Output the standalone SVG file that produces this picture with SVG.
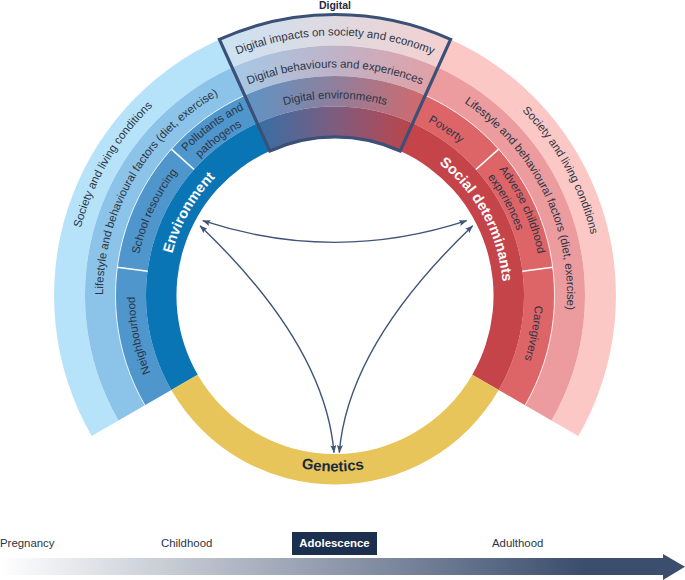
<svg xmlns="http://www.w3.org/2000/svg" width="685" height="580" viewBox="0 0 685 580">
<style>
text{font-family:"Liberation Sans",Arial,sans-serif;font-size:11.4px;fill:#2b3445}
.m{text-anchor:middle}
.b{font-weight:700;font-size:14.5px;fill:#fff}
.sep{stroke:#fff;stroke-width:1.6;fill:none}
.hair{stroke:#fff;stroke-width:.8;fill:none}
.arrow{fill:none;stroke:#3f5478;stroke-width:1.4;marker-start:url(#head);marker-end:url(#head)}
</style>
<defs>
<marker id="head" viewBox="0 0 8 6" refX="7.6" refY="3" markerWidth="8" markerHeight="6" markerUnits="userSpaceOnUse" orient="auto-start-reverse"><path d="M0 0L8 3L0 6L1.5 3Z" fill="#3f5478"/></marker>
<linearGradient id="d1" gradientUnits="userSpaceOnUse" x1="219" x2="451" y1="0" y2="0"><stop offset="0" stop-color="#cbe3f3"/><stop offset=".5" stop-color="#dfd9e0"/><stop offset="1" stop-color="#f4d0cf"/></linearGradient>
<linearGradient id="d2" gradientUnits="userSpaceOnUse" x1="232" x2="438" y1="0" y2="0"><stop offset="0" stop-color="#a5c9e6"/><stop offset=".5" stop-color="#bfb3c8"/><stop offset="1" stop-color="#e3a0a5"/></linearGradient>
<linearGradient id="d3" gradientUnits="userSpaceOnUse" x1="245" x2="425" y1="0" y2="0"><stop offset="0" stop-color="#5e94c6"/><stop offset=".5" stop-color="#8f7f9c"/><stop offset="1" stop-color="#d2696c"/></linearGradient>
<linearGradient id="d4" gradientUnits="userSpaceOnUse" x1="257" x2="413" y1="0" y2="0"><stop offset="0" stop-color="#366fa5"/><stop offset=".5" stop-color="#7e5c7f"/><stop offset="1" stop-color="#bd444a"/></linearGradient>
<linearGradient id="tl" x1="0" x2="1" y1="0" y2="0"><stop offset="0" stop-color="#fff"/><stop offset=".85" stop-color="#3c4e6e"/><stop offset="1" stop-color="#3c4e6e"/></linearGradient>
<path id="r168" d="M335 463.5A168 168 0 0 1 335 127.5A168 168 0 0 1 335 463.5"/>
<path id="r193" d="M335 488.5A193 193 0 0 1 335 102.5A193 193 0 0 1 335 488.5"/>
<path id="r197" d="M335 492.5A197 197 0 0 1 335 98.5A197 197 0 0 1 335 492.5"/>
<path id="r200" d="M335 495.5A200 200 0 0 1 335 95.5A200 200 0 0 1 335 495.5"/>
<path id="r207" d="M335 502.5A207 207 0 0 1 335 88.5A207 207 0 0 1 335 502.5"/>
<path id="r228" d="M335 523.5A228 228 0 0 1 335 67.5A228 228 0 0 1 335 523.5"/>
<path id="r232" d="M335 527.5A232 232 0 0 1 335 63.5A232 232 0 0 1 335 527.5"/>
<path id="r260" d="M335 555.5A260 260 0 0 1 335 35.5A260 260 0 0 1 335 555.5"/>
<path id="r263" d="M335 558.5A263 263 0 0 1 335 32.5A263 263 0 0 1 335 558.5"/>
<path id="gen" d="M159 295.5A176 176 0 0 0 511 295.5"/>
</defs>

<g id="environment">
<path fill="#b6e3f9" d="M91.7 436A281 281 0 0 1 219.4 39.4L232.1 67.6A250 250 0 0 0 118.5 420.5Z"/>
<path fill="#8cc3e8" d="M118.5 420.5A250 250 0 0 1 232.1 67.6L244.7 95.4A219.5 219.5 0 0 0 144.9 405.25Z"/>
<path fill="#4f96cc" d="M144.9 405.25A219.5 219.5 0 0 1 244.7 95.4L257.2 123.2A189 189 0 0 0 171.3 390Z"/>
<path fill="#0a75b5" d="M171.3 390A189 189 0 0 1 257.2 123.2L269.8 151A158.5 158.5 0 0 0 197.7 374.75Z"/>
<path class="hair" d="M144.9 405.25A219.5 219.5 0 0 1 244.7 95.4"/>
<path class="sep" d="M194.1 169.5L171.4 149.2M147.6 271.2L117.3 267.2"/>
<text><textPath href="#r263" startOffset="33.47%" class="m">Society and living conditions</textPath></text>
<text><textPath href="#r232" startOffset="33.33%" class="m">Lifestyle and behavioural factors (diet, exercise)</textPath></text>
<text><textPath href="#r207" startOffset="40%" class="m">Pollutants and</textPath></text>
<text><textPath href="#r193" startOffset="39.83%" class="m">pathogens</textPath></text>
<text><textPath href="#r200" startOffset="31.94%" class="m">School resourcing</textPath></text>
<text><textPath href="#r200" startOffset="21.8%" class="m">Neighbourhood</textPath></text>
<text class="b"><textPath href="#r168" startOffset="33.19%" class="m">Environment</textPath></text>
</g>

<g id="social-determinants">
<path fill="#fbc8c5" d="M578.3 436A281 281 0 0 0 450.6 39.4L437.9 67.6A250 250 0 0 1 551.5 420.5Z"/>
<path fill="#ec9c9e" d="M551.5 420.5A250 250 0 0 0 437.9 67.6L425.3 95.4A219.5 219.5 0 0 1 525.1 405.25Z"/>
<path fill="#dd6567" d="M525.1 405.25A219.5 219.5 0 0 0 425.3 95.4L412.8 123.2A189 189 0 0 1 498.7 390Z"/>
<path fill="#c5444a" d="M498.7 390A189 189 0 0 0 412.8 123.2L400.2 151A158.5 158.5 0 0 1 472.3 374.75Z"/>
<path class="hair" d="M525.1 405.25A219.5 219.5 0 0 0 425.3 95.4"/>
<path class="sep" d="M475.9 169.5L498.6 149.2M522.4 271.2L552.7 267.2"/>
<text><textPath href="#r263" startOffset="66.94%" class="m">Society and living conditions</textPath></text>
<text><textPath href="#r232" startOffset="67.69%" class="m">Lifestyle and behavioural factors (diet, exercise)</textPath></text>
<text><textPath href="#r197" startOffset="59.39%" class="m">Poverty</textPath></text>
<text><textPath href="#r207" startOffset="68.17%" class="m">Adverse childhood</textPath></text>
<text><textPath href="#r193" startOffset="67.03%" class="m">experiences</textPath></text>
<text><textPath href="#r200" startOffset="78%" class="m">Caregivers</textPath></text>
<text class="b"><textPath href="#r168" startOffset="67.17%" class="m">Social determinants</textPath></text>
</g>

<g id="digital">
<path fill="url(#d1)" d="M219.4 39.4A281 281 0 0 1 450.6 39.4L437.9 67.6A250 250 0 0 0 232.1 67.6Z"/>
<path fill="url(#d2)" d="M232.1 67.6A250 250 0 0 1 437.9 67.6L425.3 95.4A219.5 219.5 0 0 0 244.7 95.4Z"/>
<path fill="url(#d3)" d="M244.7 95.4A219.5 219.5 0 0 1 425.3 95.4L412.8 123.2A189 189 0 0 0 257.2 123.2Z"/>
<path fill="url(#d4)" d="M257.2 123.2A189 189 0 0 1 412.8 123.2L400.2 151A158.5 158.5 0 0 0 269.8 151Z"/>
<path fill="none" stroke="#3b5076" stroke-width="3.2" d="M219.4 39.4A281 281 0 0 1 450.6 39.4L400.2 151A158.5 158.5 0 0 0 269.8 151Z"/>
<text class="m" x="335" y="9" style="font-weight:700;font-size:10.5px;fill:#1f2a3d">Digital</text>
<text><textPath href="#r260" startOffset="50%" class="m">Digital impacts on society and economy</textPath></text>
<text><textPath href="#r228" startOffset="50%" class="m">Digital behaviours and experiences</textPath></text>
<text><textPath href="#r197" startOffset="50%" class="m">Digital environments</textPath></text>
</g>

<g id="genetics">
<path fill="#e7c55a" d="M498.7 390A189 189 0 0 1 171.3 390L197.7 374.75A158.5 158.5 0 0 0 472.3 374.75Z"/>
<text style="font-weight:700;font-size:15px;fill:#1c2a40"><textPath href="#gen" startOffset="49.6%" class="m">Genetics</textPath></text>
</g>

<g id="connectors">
<path class="arrow" d="M202.7 220.7Q335 264 466.7 220.7"/>
<path class="arrow" d="M200 225.7Q325 345 334 452.7"/>
<path class="arrow" d="M472.7 225.7Q348 345 339.3 452.7"/>
</g>

<g id="timeline">
<path fill="url(#tl)" d="M0 558H663V554L685 566.7L663 580V575H0Z"/>
<text x="0" y="547">Pregnancy</text>
<text x="161" y="547">Childhood</text>
<rect x="292" y="532" width="85" height="23" fill="#1c2f4f"/>
<text class="m" x="334.5" y="547" style="font-weight:700;fill:#fff">Adolescence</text>
<text x="492" y="547">Adulthood</text>
</g>
</svg>
